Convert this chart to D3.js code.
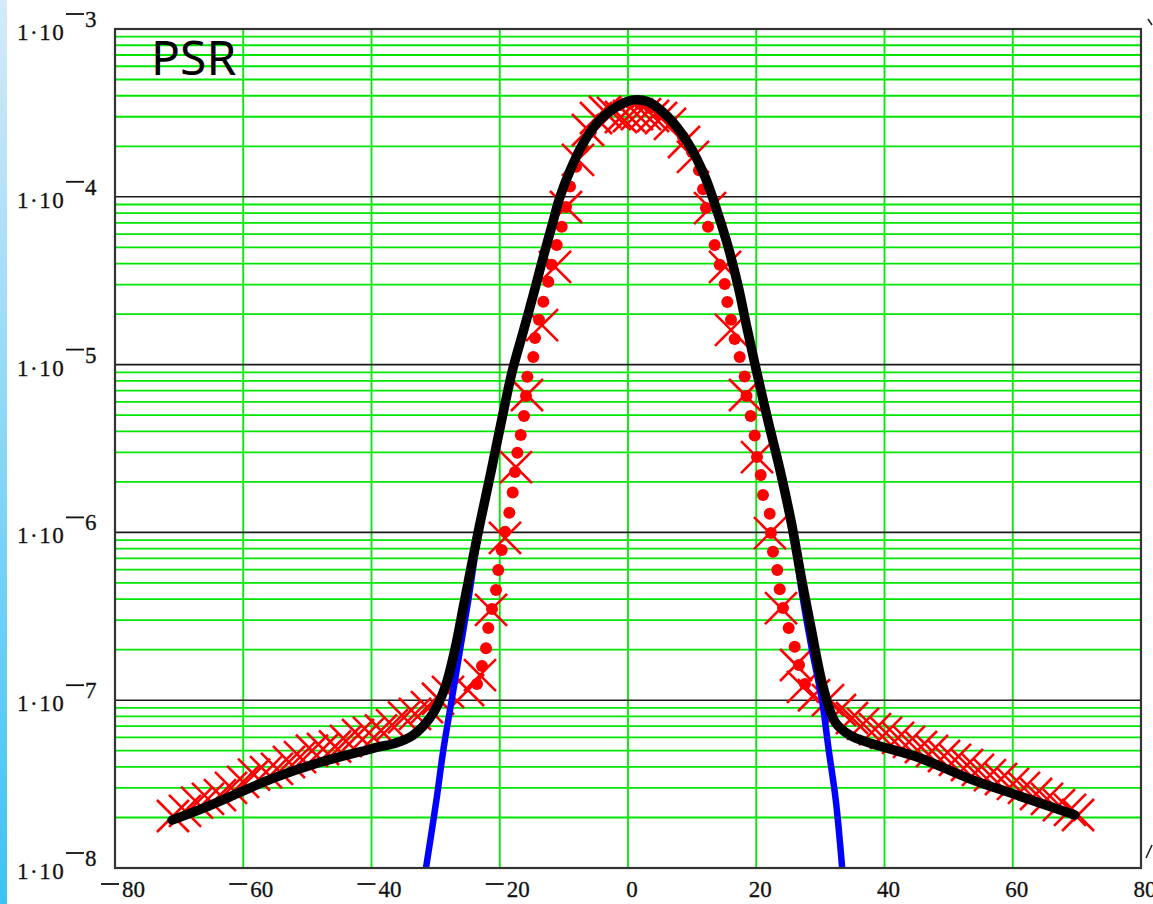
<!DOCTYPE html>
<html>
<head>
<meta charset="utf-8">
<script src="https://cdn.jsdelivr.net/npm/d3@7"></script>
<style>
  body { margin: 0; background: #fff; }
  svg { display: block; }
</style>
</head>
<body>
<script>
// tick values
var xTicks = [-80, -60, -40, -20, 0, 20, 40, 60, 80];
var yTicks = [1e-3, 1e-4, 1e-5, 1e-6, 1e-7, 1e-8];
var yExps = [-3, -4, -5, -6, -7, -8];

// red crosses : measured profile
var crossX = [-70.96, -69.08, -67.21, -65.50, -63.63, -61.91, -60.04, -58.32, -56.45, -54.74,
  -52.87, -51.15, -49.28, -47.56, -45.69, -43.98, -42.10, -40.39, -38.52, -36.80,
  -34.93, -33.22, -31.35, -29.63, -28.07, -24.95, -23.08, -21.36, -19.18, -17.47,
  -15.75, -13.41, -11.38, -9.67, -7.80, -6.24, -4.99, -3.59, -2.34, -1.09,
  0.16, 1.40, 2.65, 3.90, 5.15, 6.55, 8.73, 10.14, 12.79, 15.13,
  16.06, 18.25, 20.12, 22.14, 23.86, 26.20, 27.29, 29.00, 31.19, 33.06,
  34.93, 36.65, 38.52, 40.23, 42.11, 43.82, 45.69, 47.41, 49.28, 50.99,
  52.87, 54.58, 56.45, 58.17, 60.04, 61.75, 63.63, 65.34, 67.21, 68.93, 70.18];
var crossY = [2.04e-8, 2.19e-8, 2.45e-8, 2.58e-8, 2.72e-8, 3.00e-8, 3.26e-8, 3.60e-8, 3.73e-8, 3.90e-8,
  4.28e-8, 4.58e-8, 5.00e-8, 5.12e-8, 5.30e-8, 5.71e-8, 6.20e-8, 6.38e-8, 6.60e-8, 7.11e-8,
  7.90e-8, 8.28e-8, 9.10e-8, 1.02e-7, 1.12e-7, 1.15e-7, 1.41e-7, 3.45e-7, 9.27e-7, 2.45e-6,
  6.59e-6, 1.72e-5, 3.82e-5, 8.69e-5, 1.66e-4, 2.50e-4, 2.95e-4, 3.20e-4, 3.16e-4, 2.99e-4,
  3.03e-4, 3.11e-4, 3.11e-4, 3.03e-4, 2.95e-4, 2.72e-4, 2.12e-4, 1.73e-4, 8.57e-5, 3.82e-5,
  1.61e-5, 6.59e-6, 2.81e-6, 9.91e-7, 3.54e-7, 1.62e-7, 1.20e-7, 1.07e-7, 1.00e-7, 8.74e-8,
  7.83e-8, 7.22e-8, 6.73e-8, 6.38e-8, 5.96e-8, 5.64e-8, 5.26e-8, 4.98e-8, 4.65e-8, 4.41e-8,
  4.11e-8, 3.84e-8, 3.58e-8, 3.39e-8, 3.17e-8, 3.00e-8, 2.76e-8, 2.58e-8, 2.37e-8, 2.22e-8, 2.07e-8];

// red dots : core samples
var dotX = [-23.55, -22.77, -22.14, -21.79, -21.21, -20.58, -20.23, -19.70, -19.18, -18.51,
  -17.98, -17.62, -17.26, -16.73, -16.22, -15.91, -15.70, -14.77, -14.50, -13.88,
  -13.21, -12.43, -11.90, -11.12, -10.34, -9.67, -9.04, -8.10, -7.00, -5.80,
  -4.37, -2.80, -1.25, 0.30, 1.87, 3.43, 5.00, 6.86, 8.58, 9.98,
  11.07, 11.70, 12.16, 12.48, 13.52, 14.30, 15.08, 15.49, 16.06, 16.64,
  17.42, 18.20, 18.48, 19.13, 19.76, 20.12, 20.69, 21.05, 22.10, 22.30,
  22.61, 23.28, 23.66, 24.17, 25.06, 26.00, 26.67, 27.60];
var dotY = [1.25e-7, 1.60e-7, 2.04e-7, 2.69e-7, 3.50e-7, 4.54e-7, 5.97e-7, 7.85e-7, 1.01e-6, 1.31e-6,
  1.73e-6, 2.29e-6, 2.98e-6, 3.80e-6, 4.94e-6, 6.50e-6, 8.47e-6, 1.11e-5, 1.44e-5, 1.85e-5,
  2.37e-5, 3.12e-5, 3.93e-5, 5.16e-5, 6.64e-5, 8.69e-5, 1.15e-4, 1.51e-4, 1.95e-4, 2.43e-4,
  2.91e-4, 3.29e-4, 3.52e-4, 3.62e-4, 3.57e-4, 3.38e-4, 3.11e-4, 2.72e-4, 2.27e-4, 1.85e-4,
  1.44e-4, 1.11e-4, 8.57e-5, 6.64e-5, 5.16e-5, 3.93e-5, 3.02e-5, 2.36e-5, 1.85e-5, 1.42e-5,
  1.11e-5, 8.50e-6, 6.50e-6, 4.94e-6, 3.78e-6, 2.81e-6, 2.20e-6, 1.67e-6, 1.29e-6, 9.91e-7,
  7.67e-7, 5.97e-7, 4.58e-7, 3.54e-7, 2.69e-7, 2.08e-7, 1.62e-7, 1.25e-7];

// blue : gaussian core
var gaussX = [-31.5, -29.8, -28.8, -27.5, -26.2, -24.9, -23.3, -21.3, -19.7, -18.0,
  -16.4, -14.7, -13.2, -10.6, -7.0, -4.4, -1.3, 0.9, 3.1, 6.2,
  9.4, 12.0, 14.0, 15.6, 17.2, 18.4, 20.0, 21.8, 23.7, 25.5,
  27.3, 28.7, 30.25, 31.3, 32.4, 33.4];
var gaussY = [1.0e-8, 2.66e-8, 5.05e-8, 1.0e-7, 1.99e-7, 3.95e-7, 9.9e-7, 2.36e-6, 4.68e-6, 9.29e-6,
  1.54e-5, 2.66e-5, 4.40e-5, 1.0e-4, 2.08e-4, 2.87e-4, 3.52e-4, 3.76e-4, 3.69e-4, 3.0e-4,
  2.08e-4, 1.32e-4, 7.98e-5, 5.05e-5, 2.91e-5, 1.76e-5, 9.29e-6, 4.68e-6, 2.36e-6, 1.13e-6,
  3.95e-7, 1.99e-7, 1.0e-7, 5.05e-8, 2.54e-8, 1.0e-8];

// black : full fit with wings
var fitX = [-71.1, -66.0, -61.5, -55.3, -48.5, -40.7, -38.7, -36.6, -33.5, -30.4,
  -28.5, -27.0, -25.5, -23.4, -21.3, -19.7, -18.0, -16.4, -14.7, -13.2,
  -11.9, -10.6, -9.0, -7.0, -4.4, -1.3, 0.8, 3.1, 6.2, 9.4,
  12.0, 14.0, 15.6, 17.2, 18.4, 20.0, 21.8, 23.7, 25.5, 27.0,
  28.6, 30.4, 32.3, 34.6, 37.7, 45.5, 53.3, 60.6, 69.7];
var fitY = [1.93e-8, 2.29e-8, 2.72e-8, 3.43e-8, 4.21e-8, 5.05e-8, 5.28e-8, 5.50e-8, 6.20e-8, 8.36e-8,
  1.20e-7, 2.0e-7, 3.9e-7, 9.89e-7, 2.36e-6, 4.68e-6, 9.29e-6, 1.54e-5, 2.66e-5, 4.40e-5,
  6.64e-5, 1.0e-4, 1.44e-4, 2.08e-4, 2.87e-4, 3.52e-4, 3.78e-4, 3.69e-4, 3.0e-4, 2.08e-4,
  1.32e-4, 7.98e-5, 5.05e-5, 2.91e-5, 1.76e-5, 9.29e-6, 4.68e-6, 2.36e-6, 1.13e-6, 5.44e-7,
  2.62e-7, 1.21e-7, 7.41e-8, 6.19e-8, 5.56e-8, 4.53e-8, 3.40e-8, 2.72e-8, 2.07e-8];

var W = 1153, H = 904;
var pL = 115, pR = 1141, pT = 29, pB = 868;

var svg = d3.select("body").append("svg")
  .attr("width", W)
  .attr("height", H);

// blue strip on the left edge
var grad = svg.append("defs").append("linearGradient")
  .attr("id", "strip").attr("x1", 0).attr("y1", 0).attr("x2", 0).attr("y2", 1);
grad.append("stop").attr("offset", "0%").attr("stop-color", "#d4eaf9");
grad.append("stop").attr("offset", "100%").attr("stop-color", "#3cc3f4");
svg.append("rect").attr("x", 0).attr("y", 0).attr("width", 7).attr("height", H)
  .attr("fill", "url(#strip)");

var x = d3.scaleLinear().domain([-80, 80]).range([pL, pR]);
var y = d3.scaleLog().domain([1e-8, 1e-3]).range([pB, pT]);

function zip(xs, ys) {
  return xs.map(function(d, i) { return [d, ys[i]]; });
}

// grid
var minor = y.ticks().filter(function(d) {
  var e = Math.log10(d);
  return Math.abs(e - Math.round(e)) > 1e-6;
});
svg.append("g").selectAll("line").data(minor).enter().append("line")
  .attr("x1", pL).attr("x2", pR)
  .attr("y1", function(d) { return y(d); })
  .attr("y2", function(d) { return y(d); })
  .attr("stroke", "#00e600").attr("stroke-width", 1.8);

svg.append("g").selectAll("line").data(xTicks.slice(1, -1)).enter().append("line")
  .attr("x1", function(d) { return x(d); })
  .attr("x2", function(d) { return x(d); })
  .attr("y1", pT).attr("y2", pB)
  .attr("stroke", "#00e600").attr("stroke-width", 1.8);

svg.append("g").selectAll("line").data(yTicks.slice(1, -1)).enter().append("line")
  .attr("x1", pL).attr("x2", pR)
  .attr("y1", function(d) { return y(d); })
  .attr("y2", function(d) { return y(d); })
  .attr("stroke", "#1a1a1a").attr("stroke-width", 1.6);

// red crosses
svg.append("g").selectAll("path").data(zip(crossX, crossY)).enter().append("path")
  .attr("transform", function(d) { return "translate(" + x(d[0]) + "," + y(d[1]) + ")"; })
  .attr("d", "M-16,-16L16,16M-16,16L16,-16")
  .attr("stroke", "#ff0000").attr("stroke-width", 2.6).attr("fill", "none");

// red dots
svg.append("g").selectAll("circle").data(zip(dotX, dotY)).enter().append("circle")
  .attr("cx", function(d) { return x(d[0]); })
  .attr("cy", function(d) { return y(d[1]); })
  .attr("r", 6)
  .attr("fill", "#ff0000");

var line = d3.line()
  .x(function(d) { return x(d[0]); })
  .y(function(d) { return y(d[1]); })
  .curve(d3.curveCatmullRom.alpha(0.5));

svg.append("path").datum(zip(gaussX, gaussY))
  .attr("d", line)
  .attr("fill", "none").attr("stroke", "#0000ff").attr("stroke-width", 6.5);

svg.append("path").datum(zip(fitX, fitY))
  .attr("d", line)
  .attr("fill", "none").attr("stroke", "#000").attr("stroke-width", 9.5)
  .attr("stroke-linecap", "round").attr("stroke-linejoin", "round");

// frame
svg.append("rect")
  .attr("x", pL).attr("y", pT)
  .attr("width", pR - pL).attr("height", pB - pT)
  .attr("fill", "none").attr("stroke", "#333").attr("stroke-width", 2.2);

// y labels  1·10^-n
var font = "'Liberation Serif', 'DejaVu Serif', serif";
var yl = svg.append("g").selectAll("g").data(yTicks).enter().append("g")
  .attr("transform", function(d) { return "translate(0," + y(d) + ")"; });
yl.append("text")
  .attr("x", 17).attr("y", 11)
  .style("font-family", font).style("font-size", "23px").style("fill", "#111")
  .style("letter-spacing", "1.5px")
  .style("stroke", "#111").style("stroke-width", 0.3)
  .text("1\u00b710");
yl.append("line")
  .attr("x1", 66).attr("x2", 84).attr("y1", -15).attr("y2", -15)
  .attr("stroke", "#111").attr("stroke-width", 1.8);
yl.append("text")
  .attr("x", 85).attr("y", -2)
  .style("font-family", font).style("font-size", "23px").style("fill", "#111")
  .style("stroke", "#111").style("stroke-width", 0.3)
  .text(function(d, i) { return Math.abs(yExps[i]); });

// x labels
var xl = svg.append("g").selectAll("g").data(xTicks).enter().append("g")
  .attr("transform", function(d) { return "translate(" + x(d) + ",897)"; });
xl.append("text")
  .attr("x", function(d) { return d < 0 ? 7 : 4; })
  .attr("text-anchor", function(d) { return d < 0 ? "start" : "middle"; })
  .style("font-family", font).style("font-size", "23px").style("fill", "#111")
  .style("stroke", "#111").style("stroke-width", 0.3)
  .text(function(d) { return Math.abs(d); });
xl.filter(function(d) { return d < 0; }).append("line")
  .attr("x1", -14).attr("x2", 4).attr("y1", -13).attr("y2", -13)
  .attr("stroke", "#111").attr("stroke-width", 1.8);

// clipped glyph fragments on the right edge
svg.append("path")
  .attr("d", "M1148,19L1152,25M1146,858L1152,845")
  .attr("stroke", "#222").attr("stroke-width", 1.6).attr("fill", "none");

// title
svg.append("text")
  .attr("x", 151).attr("y", 75)
  .style("font-family", "'Comic Sans MS', 'Noto Sans', sans-serif")
  .style("font-size", "48px").style("fill", "#000")
  .text("PSR");
</script>
</body>
</html>
